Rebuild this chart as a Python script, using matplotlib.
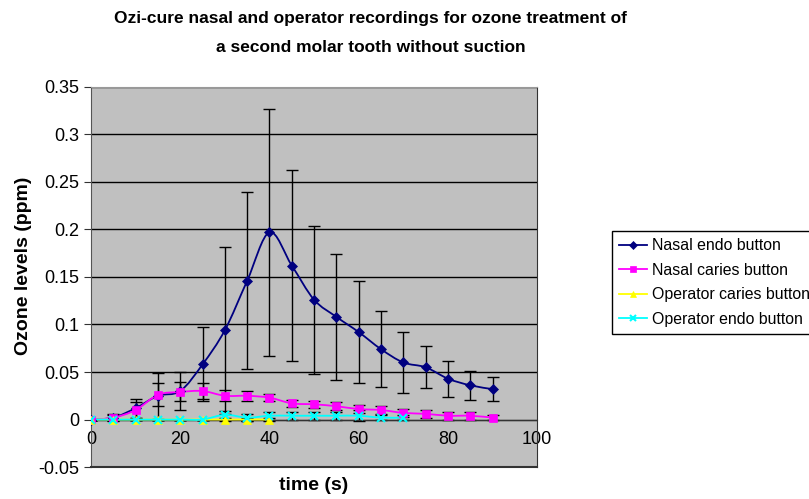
import numpy as np
import matplotlib
matplotlib.use("Agg")
import matplotlib.pyplot as plt
from matplotlib.path import Path
from matplotlib.patches import PathPatch

plt.rcParams['font.family'] = ['Liberation Sans', 'DejaVu Sans']

# time points (s)
t = [0, 5, 10, 15, 20, 25, 30, 35, 40, 45, 50, 55, 60, 65, 70, 75, 80, 85, 90]

nasal_endo = [0, 0.002, 0.012, 0.025, 0.030, 0.058, 0.094, 0.146, 0.197, 0.162,
              0.126, 0.108, 0.092, 0.074, 0.060, 0.055, 0.043, 0.036, 0.032]
nasal_endo_err = [0, 0.004, 0.010, 0.024, 0.020, 0.039, 0.088, 0.093, 0.130, 0.100,
                  0.078, 0.066, 0.054, 0.040, 0.032, 0.022, 0.019, 0.015, 0.013]

nasal_caries = [0, 0.002, 0.010, 0.026, 0.029, 0.030, 0.025, 0.025, 0.023, 0.017,
                0.016, 0.014, 0.011, 0.010, 0.007, 0.006, 0.004, 0.004, 0.002]
nasal_caries_err = [0, 0.003, 0.008, 0.012, 0.010, 0.008, 0.006, 0.005, 0.004, 0.004,
                    0.004, 0.004, 0.004, 0.004, 0.004, 0.004, 0.004, 0.004, 0.003]

t_op_caries = [0, 5, 10, 15, 20, 25, 30, 35, 40]
op_caries = [0, 0, 0, 0, 0, 0, 0, 0, 0]
op_caries_err = [0, 0, 0, 0, 0, 0, 0.002, 0.002, 0.002]

t_op_endo = [0, 5, 10, 15, 20, 25, 30, 35, 40, 45, 50, 55, 60, 65, 70]
op_endo = [0, 0, 0, 0, 0, 0, 0.005, 0.002, 0.004, 0.004, 0.004, 0.004, 0.004, 0.002, 0.002]
op_endo_err = [0, 0, 0, 0, 0, 0, 0.004, 0.004, 0.004, 0.004, 0.004, 0.004, 0.006, 0.003, 0.003]

series = [
    ("Nasal endo button", t, nasal_endo, nasal_endo_err, '#000080', 'D', 5),
    ("Nasal caries button", t, nasal_caries, nasal_caries_err, '#FF00FF', 's', 6),
    ("Operator caries button", t_op_caries, op_caries, op_caries_err, '#FFFF00', '^', 6),
    ("Operator endo button", t_op_endo, op_endo, op_endo_err, '#00FFFF', 'x', 6),
]


def smooth_path(x, y):
    # Excel-like smoothed line: Catmull-Rom segments as cubic Beziers
    x = np.asarray(x, float)
    y = np.asarray(y, float)
    verts = [(x[0], y[0])]
    codes = [Path.MOVETO]
    n = len(x)
    for i in range(n - 1):
        i0 = max(i - 1, 0)
        i3 = min(i + 2, n - 1)
        c1 = (x[i] + (x[i + 1] - x[i0]) / 6, y[i] + (y[i + 1] - y[i0]) / 6)
        c2 = (x[i + 1] - (x[i3] - x[i]) / 6, y[i + 1] - (y[i3] - y[i]) / 6)
        verts += [c1, c2, (x[i + 1], y[i + 1])]
        codes += [Path.CURVE4] * 3
    return Path(verts, codes)


fig = plt.figure(figsize=(8.09, 4.99), dpi=100)
ax = fig.add_axes([0.1125, 0.064, 0.5515, 0.762])
ax.set_facecolor('#C0C0C0')

for label, xs, ys, err, color, marker, ms in series:
    ax.errorbar(xs, ys, yerr=err, fmt='none', ecolor='black', elinewidth=1,
                capsize=4, capthick=1, zorder=2)
    ax.add_patch(PathPatch(smooth_path(xs, ys), facecolor='none', edgecolor=color,
                           lw=1.3, zorder=3))
    ax.plot(xs, ys, linestyle='none', marker=marker, color=color, markersize=ms,
            markeredgewidth=1.5 if marker == 'x' else 0.5, zorder=4)
    ax.plot([], [], color=color, marker=marker, markersize=ms - 1, lw=1.3,
            markeredgewidth=1.5 if marker == 'x' else 0.5, label=label)

ax.set_xlim(0, 100)
ax.set_ylim(-0.05, 0.35)
ax.set_yticks(np.arange(-0.05, 0.351, 0.05))
ax.set_yticklabels(['-0.05', '0', '0.05', '0.1', '0.15', '0.2', '0.25', '0.3', '0.35'])
ax.set_xticks([0, 20, 40, 60, 80, 100])
ax.yaxis.grid(True, color='black', lw=1)
ax.set_axisbelow(True)

ax.spines['bottom'].set_position(('data', 0))
ax.spines['bottom'].set_color('#333333')
ax.spines['left'].set_color('#555555')
ax.spines['top'].set_color('#999999')
ax.spines['right'].set_color('#333333')
ax.tick_params(axis='x', length=0, labelsize=13, pad=8)
ax.tick_params(axis='y', length=5, labelsize=13, color='#333333')
# gray frame on the bottom edge of the plot area
ax.plot([0, 100], [-0.05, -0.05], color='#333333', lw=1.5, clip_on=False, zorder=5)

ax.set_ylabel('Ozone levels (ppm)', fontsize=14, fontweight='bold')
ax.yaxis.set_label_coords(-0.132, 0.53)
ax.set_xlabel('time (s)', fontsize=14, fontweight='bold')
ax.xaxis.set_label_coords(0.5, -0.027)

fig.text(0.458, 0.963, 'Ozi-cure nasal and operator recordings for ozone treatment of',
         ha='center', va='center', fontsize=12.5, fontweight='bold')
fig.text(0.458, 0.905, 'a second molar tooth without suction',
         ha='center', va='center', fontsize=12.5, fontweight='bold')

leg = fig.legend(loc='upper left', bbox_to_anchor=(0.7565, 0.537), fontsize=11.4,
                 frameon=True, fancybox=False, edgecolor='black', framealpha=1,
                 handlelength=1.75, borderpad=0.45, labelspacing=0.6, handletextpad=0.3,
                 borderaxespad=0)
leg.get_frame().set_linewidth(1)

fig.savefig('out.png', dpi=100)
